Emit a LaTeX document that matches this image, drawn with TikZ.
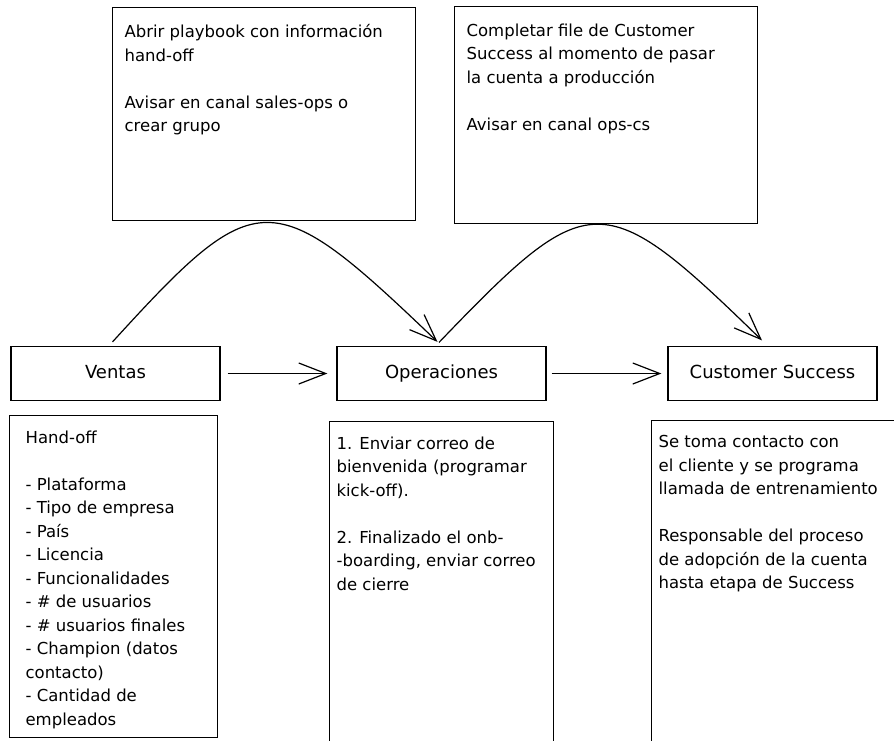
\documentclass[tikz,border=0pt]{standalone}
\usepackage{fontspec}
\setmainfont{DejaVu Sans}
\usetikzlibrary{arrows.meta, positioning}

\tikzset{
    stagebox/.style={draw, line width=1.2pt, minimum width=209pt, minimum height=54pt, inner sep=0pt, text height=13pt, text depth=4pt, font=\fontsize{18}{21}\selectfont},
    notebox/.style={draw, line width=1.2pt, anchor=north west, inner xsep=12pt, inner ysep=15pt, font=\fontsize{16.5}{23.5}\selectfont},
    flow/.style={line width=1.2pt, -{Straight Barb[length=27pt,width=21pt]}},
}

\begin{document}
\begin{tikzpicture}[x=1pt, y=1pt]
        \useasboundingbox (0,0) rectangle (894,-740);

        \node[stagebox] (ventas) at (115.5,-373.5) {Ventas};
        \node[stagebox] (ops) at (441.5,-373.5) {Operaciones};
        \node[stagebox] (cs) at (772.5,-373.5) {Customer Success};

        \node[notebox, inner ysep=17pt] (playbook) at (112,-7) {\parbox[t][179pt][t]{279pt}{Abrir playbook con información\\ hand-off\\[23.5pt] Avisar en canal sales-ops o\\ crear grupo}};
        \node[notebox, inner ysep=17pt] (csfile) at (454,-6) {\parbox[t][183pt][t]{279pt}{Completar file de Customer\\ Success al momento de pasar\\ la cuenta a producción\\[23.5pt] Avisar en canal ops-cs}};

        \node[notebox, inner xsep=16pt] (handoff) at (9,-415) {\parbox[t][292pt][t]{176pt}{Hand-off\\[23.5pt] - Plataforma\\ - Tipo de empresa\\ - País\\ - Licencia\\ - Funcionalidades\\ - \# de usuarios\\ - \# usuarios finales\\ - Champion (datos\\ contacto)\\ - Cantidad de\\ empleados}};
        \node[notebox, inner xsep=7pt] (opsnote) at (329,-421) {\parbox[t][310pt][t]{210pt}{1. Enviar correo de\\ bienvenida (programar\\ kick-off).\\[23.5pt] 2. Finalizado el onb-\\ -boarding, enviar correo\\ de cierre}};
        \node[notebox, inner xsep=7pt] (csnote) at (651,-420) {\parbox[t][310pt][t]{246pt}{Se toma contacto con\\ el cliente y se programa\\ llamada de entrenamiento\\[23.5pt] Responsable del proceso\\ de adopción de la cuenta\\ hasta etapa de Success}};

        \draw[flow, shorten <=7pt, shorten >=9pt] (ventas) -- (ops);
        \draw[flow, shorten <=5pt, shorten >=6pt] (ops) -- (cs);
        \draw[flow] ([xshift=-3pt,yshift=4pt]ventas.north) .. controls +(145,159) and +(-166,159) .. ([xshift=-4pt,yshift=4pt]ops.north);
        \draw[flow] ([xshift=-2.5pt,yshift=3.5pt]ops.north) .. controls +(150,156) and +(-160,156) .. ([xshift=-10.5pt,yshift=5.5pt]cs.north);
\end{tikzpicture}
\end{document}
